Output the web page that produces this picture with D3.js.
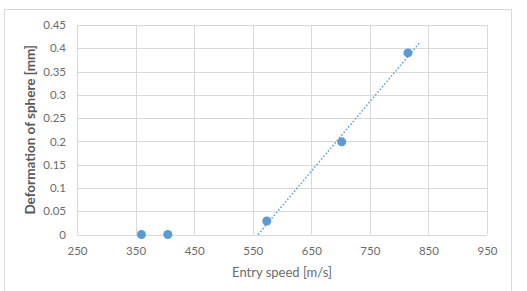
<!DOCTYPE html>
<html>
<head>
<meta charset="utf-8">
<script src="https://cdn.jsdelivr.net/npm/d3@7"></script>
<style>
    body { margin: 0; background: #fff; }
    text { font-family: Lato, "Open Sans", sans-serif; }
</style>
</head>
<body>
<div id="chart"></div>
<script>
const speeds = [360, 405, 574, 702, 815];
const deformations = [0, 0, 0.029, 0.199, 0.39];
// trendline is fitted on the three points above zero
const trendIdx = [2, 3, 4];
const trendEndSpeed = 834;

const xTicks = [250, 350, 450, 550, 650, 750, 850, 950];
const yTicks = [0, 0.05, 0.1, 0.15, 0.2, 0.25, 0.3, 0.35, 0.4, 0.45];

const W = 527, H = 291;
const margin = {top: 25, right: 40, bottom: 57, left: 77};

let svg = d3.select("#chart").append("svg")
    .attr("width", W)
    .attr("height", H);

// chart area frame
svg.append("rect")
    .attr("x", 4.5).attr("y", 9.5)
    .attr("width", 507).attr("height", 290)
    .attr("fill", "#fff")
    .attr("stroke", "#d9d9d9");

let x = d3.scaleLinear().domain([250, 950]).range([margin.left, 487]);
let y = d3.scaleLinear().domain([0, 0.45]).range([234.5, margin.top]);

// gridlines
svg.append("g").selectAll("line")
    .data(yTicks)
    .join("line")
    .attr("x1", x(250)).attr("x2", x(950))
    .attr("y1", d => Math.round(y(d)) + 0.5).attr("y2", d => Math.round(y(d)) + 0.5)
    .attr("stroke", "#d9d9d9");

svg.append("g").selectAll("line")
    .data(xTicks)
    .join("line")
    .attr("x1", d => Math.round(x(d)) + 0.5).attr("x2", d => Math.round(x(d)) + 0.5)
    .attr("y1", y(0.45)).attr("y2", y(0))
    .attr("stroke", "#d9d9d9");

// axes (labels only, Excel style)
let xAxis = d3.axisBottom(x).tickValues(xTicks).tickSize(0).tickPadding(12);
let gx = svg.append("g")
    .attr("transform", `translate(0, ${y(0)})`)
    .call(xAxis);
gx.select(".domain").remove();
gx.selectAll("text").attr("fill", "#6b6b6b").style("font-size", "11.5px");

let yAxis = d3.axisLeft(y).tickValues(yTicks).tickSize(0).tickPadding(11)
    .tickFormat(d => d3.format("~g")(d));
let gy = svg.append("g")
    .attr("transform", `translate(${x(250)}, 0)`)
    .call(yAxis);
gy.select(".domain").remove();
gy.selectAll("text").attr("fill", "#6b6b6b").style("font-size", "11.5px");

// linear trendline
let tx = trendIdx.map(i => speeds[i]);
let ty = trendIdx.map(i => deformations[i]);
let mx = d3.mean(tx), my = d3.mean(ty);
let slope = d3.sum(tx, (v, i) => (v - mx) * (ty[i] - my)) / d3.sum(tx, v => (v - mx) ** 2);
let intercept = my - slope * mx;
let startSpeed = -intercept / slope;

svg.append("line")
    .attr("x1", x(startSpeed)).attr("y1", y(0))
    .attr("x2", x(trendEndSpeed)).attr("y2", y(slope * trendEndSpeed + intercept))
    .attr("stroke", "#5b9bd5")
    .attr("stroke-width", 1.5)
    .attr("stroke-dasharray", "1.5,2");

// points
svg.append("g").selectAll("circle")
    .data(speeds)
    .join("circle")
    .attr("cx", d => x(d))
    .attr("cy", (d, i) => y(deformations[i]))
    .attr("r", 4.5)
    .attr("fill", "#5b9bd5");

// axis titles
svg.append("text")
    .attr("x", (x(250) + x(950)) / 2)
    .attr("y", 277)
    .attr("text-anchor", "middle")
    .attr("fill", "#6b6b6b")
    .style("font-size", "13px")
    .text("Entry speed [m/s]");

svg.append("text")
    .attr("transform", `translate(35, ${(y(0) + y(0.45)) / 2}) rotate(-90)`)
    .attr("text-anchor", "middle")
    .attr("fill", "#595959")
    .style("font-size", "13.5px")
    .style("font-weight", "bold")
    .text("Deformation of sphere [mm]");
</script>
</body>
</html>
